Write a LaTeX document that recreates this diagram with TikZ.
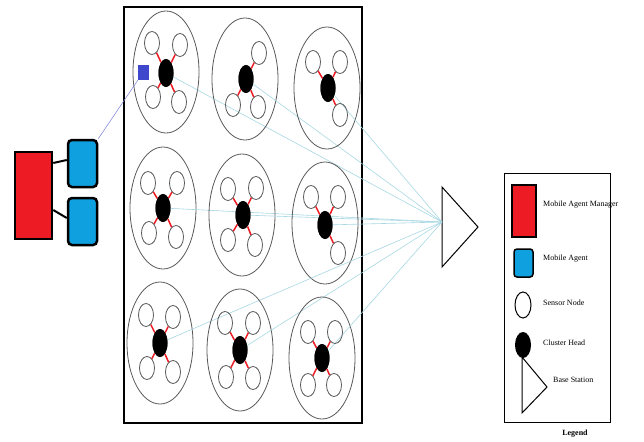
\documentclass[tikz,border=0pt]{standalone}
\usepackage{fontspec}
\setmainfont{Liberation Serif}
\usetikzlibrary{shapes.geometric}
\definecolor{mamred}{HTML}{ED1C24}
\definecolor{agblue}{HTML}{0FA0E0}
\definecolor{sqblue}{HTML}{3F48CC}
\definecolor{linkblue}{HTML}{A8D8E4}
\begin{document}
\begin{tikzpicture}[x=1pt,y=-1pt,
 cluster/.style={ellipse,draw=black!65,line width=0.8pt,minimum width=66pt,minimum height=122pt,inner sep=0pt},
 sensor/.style={ellipse,draw=black!65,line width=0.8pt,minimum width=15pt,minimum height=23pt,inner sep=0pt},
 head/.style={ellipse,fill=black,minimum width=15pt,minimum height=28pt,inner sep=0pt},
 rlink/.style={draw=mamred,line width=1.5pt},
 bslink/.style={draw=linkblue,line width=0.6pt},
 mgr/.style={rectangle,fill=mamred,draw=black,line width=2.5pt,inner sep=0pt},
 agent/.style={rectangle,rounded corners=4pt,fill=agblue,draw=black,line width=2.5pt,inner sep=0pt},
 lgtext/.style={anchor=west,inner sep=0pt,font=\fontsize{8}{9}\selectfont},
 bsshape/.style={draw=black,line width=1pt,line join=miter}
]
\useasboundingbox[fill=white] (0,0) rectangle (644,441);
% main field
\node[draw=black,line width=1.2pt,minimum width=238pt,minimum height=416pt,inner sep=0pt] (field) at (243,215) {};
% base station
\coordinate (bsin) at (442,222);
\draw[bsshape] (442,187) -- (478,227) -- (442,267) -- cycle;
% clusters
\foreach \i/\ex/\ey/\x/\y/\s in {
 1/166/72/166/73/{-14/-30,14/-28,-13/24,13/29},
 2/245/79/246/79/{13/-26,-13/26,12/28},
 3/327/88/328/88/{-15/-26,12/-26,12/27},
 4/163/208/163/208/{-15/-25,14/-25,-14/25,13/29},
 5/242/215/243/215/{-15/-26,13/-27,-15/25,12/30},
 6/325/223/325/225/{-14/-28,13/-28,13/28},
 7/160/343/160/343/{-14/-28,13/-26,-13/25,13/29},
 8/240/350/240/350/{-15/-27,13/-27,-14/27,13/28},
 9/322/358/322/358/{-14/-26,13/-26,-14/27,12/27}}{
 \node[cluster] (c\i) at (\ex,\ey) {};
 \node[head] (h\i) at (\x,\y) {};
 \draw[bslink] (h\i.center) -- (bsin);
 \node[head] at (h\i) {};
 \foreach \dx/\dy [count=\j] in \s {
   \node[sensor] (s\i-\j) at (\x+\dx,\y+\dy) {};
   \draw[rlink] (h\i) -- (s\i-\j);
 }
}
% mobile agent manager and agents
\node[mgr,minimum width=37pt,minimum height=87pt] (mam) at (33.5,195.5) {};
\node[agent,minimum width=29pt,minimum height=47pt] (ag1) at (82.5,163.5) {};
\node[agent,minimum width=29pt,minimum height=47pt] (ag2) at (82.5,221.5) {};
\draw[black,line width=2pt] (mam.east |- 0,163) -- (ag1.west |- 0,160);
\draw[black,line width=2pt] (mam.east |- 0,210) -- (ag2.west |- 0,218);
\node[rectangle,fill=sqblue,minimum width=11pt,minimum height=15pt,inner sep=0pt] (sq) at (143.5,72.5) {};
\draw[sqblue!70,line width=0.5pt] (ag1.north east) -- (sq.south west);
% legend
\node[draw=black,line width=1pt,minimum width=106pt,minimum height=249pt,inner sep=0pt] (lg) at (557,297.5) {};
\node[font=\bfseries\fontsize{8}{9}\selectfont,inner sep=0pt] (lgt) at (575,434) {Legend};
\node[mgr,minimum width=24pt,minimum height=52pt,line width=1.5pt] (lmam) at (524,211) {};
\node[lgtext] (tmam) at (543,205) {Mobile Agent Manager};
\node[agent,minimum width=19pt,minimum height=28pt,line width=1.5pt,rounded corners=3pt] (lag) at (523.5,263) {};
\node[lgtext] (tag) at (543,259) {Mobile Agent};
\node[ellipse,draw=black,line width=1pt,minimum width=16pt,minimum height=26pt,inner sep=0pt] (lsn) at (523,305) {};
\node[lgtext] (tsn) at (543,303) {Sensor Node};
\node[ellipse,fill=black,minimum width=16pt,minimum height=26pt,inner sep=0pt] (lch) at (523,345) {};
\node[lgtext] (tch) at (543,343) {Cluster Head};
\draw[bsshape] (522,357) -- (547,387) -- (522,413) -- cycle;
\node[lgtext] (tbs) at (553,380) {Base Station};
\end{tikzpicture}
\end{document}
